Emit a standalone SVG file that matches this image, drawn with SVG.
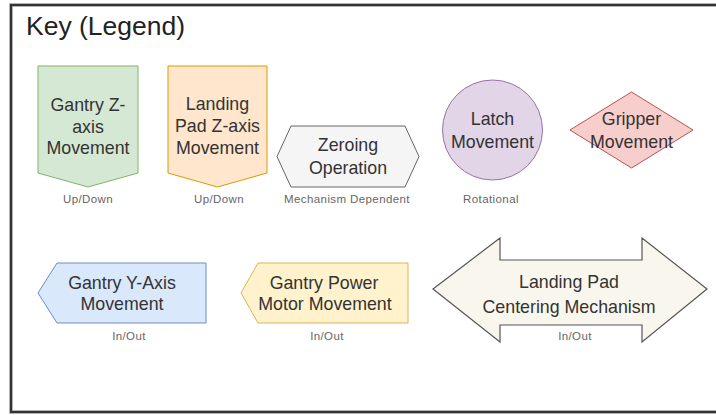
<svg xmlns="http://www.w3.org/2000/svg" width="716" height="415" viewBox="0 0 716 415">
<style>
text{font-family:"Liberation Sans",Arial,sans-serif;}
.t{font-size:17.8px;fill:#333;text-anchor:middle;}
.c{font-size:11.5px;fill:#666;text-anchor:middle;letter-spacing:0.4px;}
.ttl{font-size:26.5px;fill:#222;}
</style>
<rect x="0" y="0" width="716" height="415" fill="#fff"/>
<rect x="11" y="5" width="720" height="407" fill="#fff" stroke="#999" stroke-width="3.5"/>
<rect x="11" y="5" width="720" height="407" fill="none" stroke="#333" stroke-width="2"/>
<text class="ttl" x="26" y="35">Key (Legend)</text>
<g id="gantry-z">
<path d="M38,66 H138 V173 L88,187 L38,173 Z" fill="#d5e8d4" stroke="#82b366"/>
<text class="t" x="88" y="111">Gantry Z-</text>
<text class="t" x="88" y="133">axis</text>
<text class="t" x="88" y="154">Movement</text>
<text class="c" x="88" y="203">Up/Down</text>
</g>
<g id="landing-pad-z">
<path d="M168,66 H267 V173 L217.5,187 L168,173 Z" fill="#ffe6cc" stroke="#d79b00"/>
<text class="t" x="217.5" y="110">Landing</text>
<text class="t" x="217.5" y="132">Pad Z-axis</text>
<text class="t" x="217.5" y="154">Movement</text>
<text class="c" x="219" y="203">Up/Down</text>
</g>
<g id="zeroing">
<path d="M277,156.5 L291,126 H405 L419,156.5 L405,187 H291 Z" fill="#f5f5f5" stroke="#666"/>
<text class="t" x="348" y="151">Zeroing</text>
<text class="t" x="348" y="174">Operation</text>
<text class="c" x="347" y="203">Mechanism Dependent</text>
</g>
<g id="latch">
<circle cx="492.5" cy="130" r="50" fill="#e1d5e7" stroke="#9673a6"/>
<text class="t" x="492.5" y="125">Latch</text>
<text class="t" x="492.5" y="148">Movement</text>
<text class="c" x="491" y="203">Rotational</text>
</g>
<g id="gripper">
<path d="M570,130 L631.5,92 L693,130 L631.5,168 Z" fill="#f8cecc" stroke="#b85450"/>
<text class="t" x="631.5" y="125">Gripper</text>
<text class="t" x="631.5" y="148">Movement</text>
</g>
<g id="gantry-y">
<path d="M38,293 L57,263 H206 V323 H57 Z" fill="#dae8fc" stroke="#6c8ebf"/>
<text class="t" x="122" y="289">Gantry Y-Axis</text>
<text class="t" x="122" y="310">Movement</text>
<text class="c" x="129" y="340">In/Out</text>
</g>
<g id="gantry-power">
<path d="M241,293 L258,263 H408 V323 H258 Z" fill="#fff2cc" stroke="#d6b656"/>
<text class="t" x="324" y="289">Gantry Power</text>
<text class="t" x="325" y="310">Motor Movement</text>
<text class="c" x="327" y="340">In/Out</text>
</g>
<g id="centering">
<path d="M433,289 L500,238 V260 H642 V238 L707,289 L642,342 V325 H500 V342 Z" fill="#f9f7ed" stroke="#555" stroke-width="1.2"/>
<text class="t" x="569" y="288">Landing Pad</text>
<text class="t" x="569" y="313">Centering Mechanism</text>
<text class="c" x="575" y="340">In/Out</text>
</g>
<g id="connectors"></g>
</svg>
